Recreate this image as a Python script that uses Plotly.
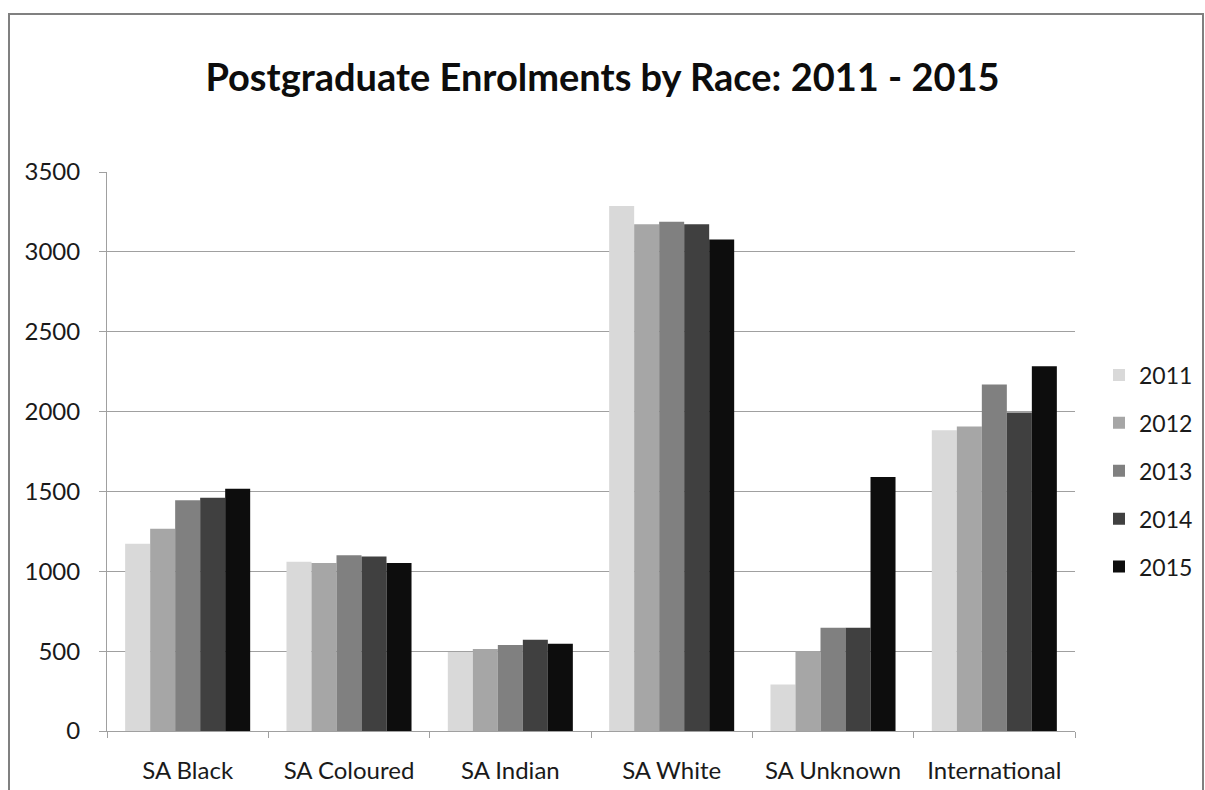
import plotly.graph_objects as go

categories = ["SA Black", "SA Coloured", "SA Indian", "SA White", "SA Unknown", "International"]
years = ["2011", "2012", "2013", "2014", "2015"]
v2011 = [1173, 1060, 494, 3287, 291, 1883]
v2012 = [1267, 1052, 514, 3173, 500, 1906]
v2013 = [1444, 1100, 539, 3189, 646, 2170]
v2014 = [1460, 1092, 571, 3173, 646, 1994]
v2015 = [1517, 1052, 546, 3077, 1591, 2284]
series = [v2011, v2012, v2013, v2014, v2015]
colors = ["#d9d9d9", "#a6a6a6", "#808080", "#404040", "#0d0d0d"]

W, H = 1205, 790
L, R, T, B = 107, 130, 172, 59
pw, ph = W - L - R, H - T - B

fig = go.Figure()
for yr, vals, c in zip(years, series, colors):
    fig.add_trace(go.Bar(
        x=categories, y=vals, name=yr, legendgroup=yr,
        marker=dict(color=c, line=dict(width=0)),
    ))

def px_x(p):
    return (p - L) / pw

def px_y(p):
    return (H - B - p) / ph

font_family = "Lato, 'Open Sans', sans-serif"

fig.update_layout(
    width=W, height=H,
    margin=dict(l=L, r=R, t=T, b=B, autoexpand=False),
    paper_bgcolor="white", plot_bgcolor="white",
    barmode="group", bargap=0.225, bargroupgap=0,
    font=dict(family=font_family, size=24, color="#1a1a1a"),
    title=dict(
        text="<b>Postgraduate Enrolments by Race: 2011 - 2015</b>",
        x=0.5, xanchor="center", xref="container",
        y=1 - 78 / H, yanchor="middle", yref="container",
        font=dict(family=font_family, size=38, color="#0d0d0d"),
    ),
    legend=dict(
        x=px_x(1099), xanchor="left", y=px_y(471), yanchor="middle",
        font=dict(size=23, color="#1a1a1a"),
        tracegroupgap=15, itemwidth=30, bgcolor="rgba(0,0,0,0)",
    ),
    xaxis=dict(
        type="category", showline=True, linecolor="#a0a0a0", linewidth=1,
        ticks="outside", tickson="boundaries", ticklen=6, tickcolor="#a0a0a0",
        showgrid=False, tickfont=dict(size=24), ticklabelstandoff=18,
        automargin=False, fixedrange=True,
    ),
    yaxis=dict(
        range=[0, 3500], dtick=500, showline=True, linecolor="#a0a0a0", linewidth=1,
        ticks="outside", ticklen=7, tickcolor="#a0a0a0",
        showgrid=True, gridcolor="#a0a0a0", gridwidth=1, zeroline=False,
        tickfont=dict(size=24), ticklabelstandoff=14, automargin=False,
    ),
    shapes=[dict(
        type="rect", xref="paper", yref="paper",
        x0=px_x(9), x1=px_x(1203), y0=px_y(800), y1=px_y(14),
        line=dict(color="#808080", width=2), fillcolor="rgba(0,0,0,0)", layer="below",
    )],
)

fig.write_html("out.html")
